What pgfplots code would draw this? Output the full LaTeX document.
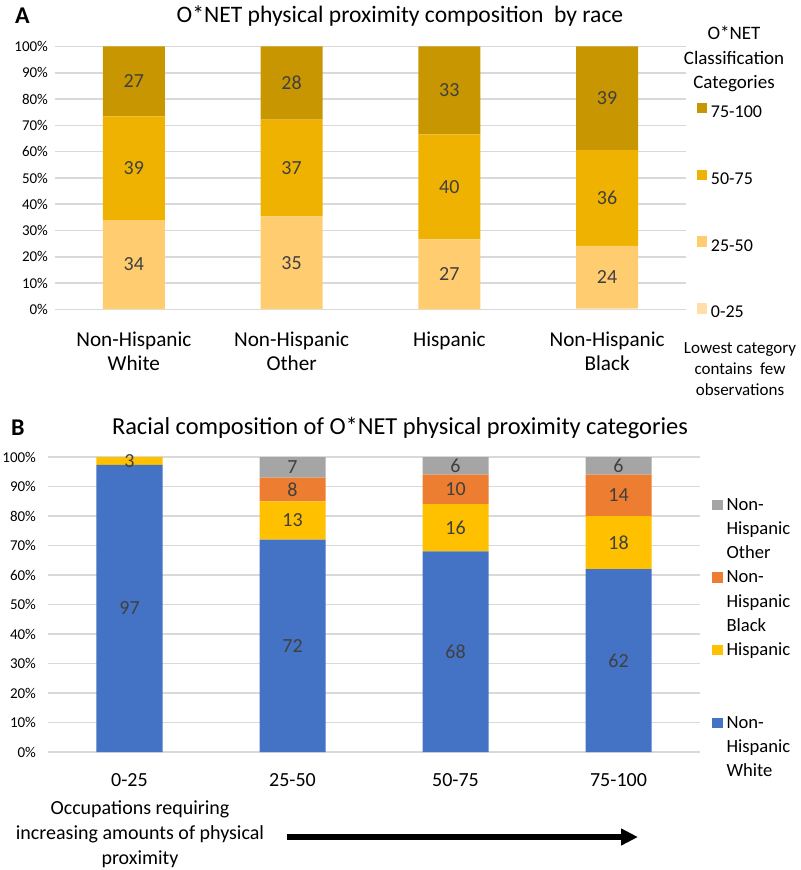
\documentclass[border=0pt]{standalone}
\usepackage{fontspec}
\setmainfont{Carlito}
\usepackage{pgfplots}
\pgfplotsset{compat=1.18}
\usetikzlibrary{arrows.meta}

\definecolor{catA}{RGB}{255,222,170}
\definecolor{catB}{RGB}{255,204,112}
\definecolor{catC}{RGB}{240,178,0}
\definecolor{catD}{RGB}{200,150,0}
\definecolor{nhw}{RGB}{68,114,196}
\definecolor{hisp}{RGB}{255,192,0}
\definecolor{nhb}{RGB}{237,125,49}
\definecolor{nho}{RGB}{165,165,165}
\definecolor{lbl}{RGB}{64,64,64}
\definecolor{gridc}{RGB}{217,217,217}

\pgfplotsset{
  stackbase/.style={
    ybar stacked,
    scale only axis,
    ymin=0, ymax=100, xmin=-0.5, xmax=3.5,
    xtick={0,1,2,3}, ytick={0,10,...,100},
    yticklabel={\pgfmathprintnumber{\tick}\%},
    ymajorgrids, grid style={gridc, line width=0.8pt},
    axis line style={draw=none}, major tick length=0pt,
    /pgf/number format/assume math mode=true,
    yticklabel style={font=\fontsize{7.5}{8}\selectfont},
    visualization depends on={rawy \as \rawy},
    nodes near coords={\ifdim\rawy pt<1pt\else\pgfmathprintnumber[fixed,precision=0]{\rawy}\fi},
    nodes near coords align=center,
    every node near coord/.append style={font=\fontsize{10}{12}\selectfont, text=lbl},
    legend cell align=left,
    legend image code/.code={\fill[##1] (0pt,0pt) rectangle (5.2pt,5.2pt);},
  }
}

\begin{document}
\begin{tikzpicture}
\useasboundingbox (0,0) rectangle (400pt,-435pt);

% ---- panel A
\node[anchor=west, font=\fontsize{12}{14}\selectfont\bfseries] at (4pt,-8pt) {A};
\node[font=\fontsize{11.8}{14}\selectfont] at (200pt,-8pt) {O*NET physical proximity composition\ \ by race};
\node[align=center, font=\fontsize{9.5}{12.2}\selectfont] at (367pt,-29.5pt) {O*NET\\Classification\\Categories};
\node[align=center, font=\fontsize{8.5}{10.5}\selectfont] at (370pt,-184.5pt) {Lowest category\\contains\ \ few\\observations};

\begin{axis}[stackbase,
  at={(27.5pt,-23.25pt)}, anchor=north west,
  width=315.5pt, height=131.5pt,
  bar width=31pt,
  xticklabels={{Non-Hispanic\\White},{Non-Hispanic\\Other},{Hispanic},{Non-Hispanic\\Black}},
  xticklabel style={align=center, font=\fontsize{10.6}{12}\selectfont, yshift=-7.5pt},
  reverse legend,
  legend style={draw=none, fill=none, inner sep=0pt, at={(1.016,0.79)}, anchor=north west,
    font=\fontsize{9}{11}\selectfont, row sep=22pt},
]
\addplot[fill=catA, draw=none] coordinates {(0,0.2) (1,0.2) (2,0.1) (3,0.4)};
\addlegendentry{0-25}
\addplot[fill=catB, draw=none] coordinates {(0,33.8) (1,35.2) (2,26.6) (3,23.8)};
\addlegendentry{25-50}
\addplot[fill=catC, draw=none] coordinates {(0,39.4) (1,36.8) (2,39.9) (3,36.4)};
\addlegendentry{50-75}
\addplot[fill=catD, draw=none] coordinates {(0,26.6) (1,27.8) (2,33.4) (3,39.4)};
\addlegendentry{75-100}
\end{axis}

% ---- panel B
\node[anchor=west, font=\fontsize{12}{14}\selectfont\bfseries] at (2pt,-214pt) {B};
\node[font=\fontsize{12.2}{14}\selectfont] at (200pt,-214pt) {Racial composition of O*NET physical proximity categories};

\begin{axis}[stackbase,
  at={(24pt,-228.5pt)}, anchor=north west,
  width=326pt, height=147.5pt,
  bar width=33pt,
  yticklabel style={xshift=-2.5pt},
  xticklabels={0-25,25-50,50-75,75-100},
  xticklabel style={font=\fontsize{10}{12}\selectfont, yshift=-7pt},
  legend style={draw=none, fill=none, inner sep=0pt, at={(1.018,0.865)}, anchor=north west,
    font=\fontsize{9.3}{11}\selectfont, row sep=4.1pt,
    nodes={inner ysep=0pt, text height=6.5pt, text depth=1.5pt},
    cells={anchor=base west}},
]
\addplot[fill=nhw, draw=none, forget plot] coordinates {(0,97.3) (1,72) (2,68) (3,62)};
\addplot[fill=hisp, draw=none, forget plot] coordinates {(0,2.7) (1,13) (2,16) (3,18)};
\addplot[fill=nhb, draw=none, forget plot] coordinates {(0,0) (1,8) (2,10) (3,14)};
\addplot[fill=nho, draw=none, forget plot] coordinates {(0,0) (1,7) (2,6) (3,6)};
\addlegendimage{fill=nho, draw=none}\addlegendentry{Non-}
\addlegendimage{empty legend}\addlegendentry{Hispanic}
\addlegendimage{empty legend}\addlegendentry{Other}
\addlegendimage{fill=nhb, draw=none}\addlegendentry{Non-}
\addlegendimage{empty legend}\addlegendentry{Hispanic}
\addlegendimage{empty legend}\addlegendentry{Black}
\addlegendimage{fill=hisp, draw=none}\addlegendentry{Hispanic}
\addlegendimage{empty legend}\addlegendentry{}
\addlegendimage{empty legend}\addlegendentry{}
\addlegendimage{fill=nhw, draw=none}\addlegendentry{Non-}
\addlegendimage{empty legend}\addlegendentry{Hispanic}
\addlegendimage{empty legend}\addlegendentry{White}
\end{axis}

\node[align=center, font=\fontsize{10}{12.5}\selectfont] at (70pt,-417pt) {Occupations requiring\\increasing amounts of physical\\proximity};
\draw[line width=3pt, -{Triangle[length=8.5pt, width=8pt]}] (143.5pt,-418.5pt) -- (319pt,-418.5pt);
\end{tikzpicture}
\end{document}
